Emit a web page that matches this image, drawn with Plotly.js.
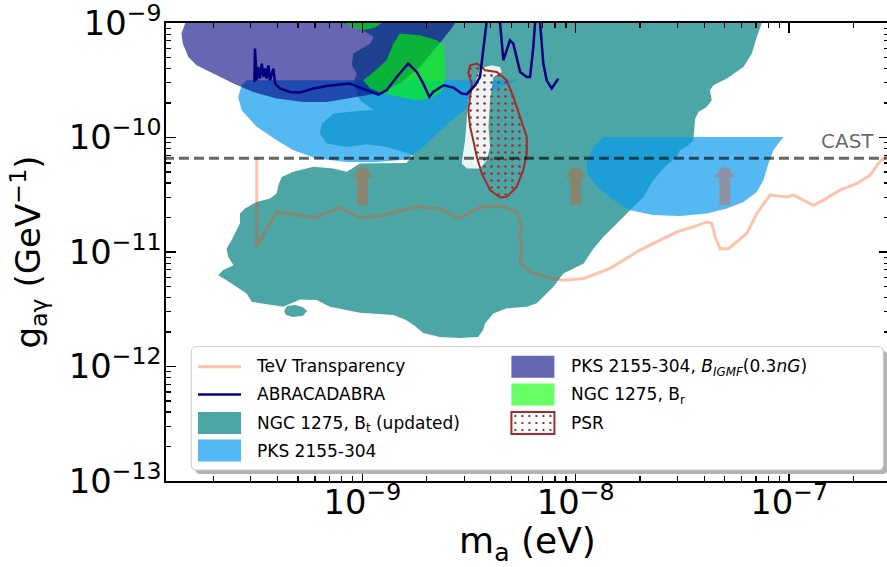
<!DOCTYPE html>
<html>
<head>
<meta charset="utf-8">
<script src="https://cdn.plot.ly/plotly-3.0.1.min.js"></script>
<style>html,body{margin:0;padding:0;overflow:hidden;background:#fff}</style>
</head>
<body>
<div id="chart" style="width:1000px;height:567px"></div>
<script>
// ---- NGC 1275, B_t (updated): contour (main body + small island, separated by null)
const ngcBtMass = [8.14e-10, 7.45e-8, 7.06e-8, 6.69e-8, 6.11e-8, 5.11e-8, 4.42e-8, 4.26e-8, 4.34e-8, 4.11e-8,
  3.76e-8, 3.63e-8, 3.56e-8, 3.37e-8, 3.08e-8, 2.98e-8, 2.62e-8, 2.31e-8, 2.08e-8, 1.73e-8,
  1.50e-8, 1.35e-8, 1.21e-8, 1.14e-8, 1.09e-8, 8.75e-9, 7.86e-9, 6.57e-9, 5.90e-9, 4.75e-9,
  4.11e-9, 3.76e-9, 3.68e-9, 3.49e-9, 2.87e-9, 2.31e-9, 1.93e-9, 1.77e-9, 1.61e-9, 1.40e-9,
  9.75e-10, 7.06e-10, 6.11e-10, 5.11e-10, 4.26e-10, 3.03e-10, 2.87e-10, 2.31e-10, 2.11e-10, 2.23e-10,
  2.49e-10, 2.35e-10, 2.31e-10, 2.44e-10, 2.67e-10, 2.67e-10, 2.82e-10, 3.20e-10, 3.69e-10, 3.97e-10,
  4.04e-10, 4.19e-10, 4.75e-10, 5.89e-10, 7.31e-10, 8.45e-10, 9.75e-10, 1.61e-9, 1.73e-9, 1.56e-9,
  1.30e-9, 1.05e-9, 8.45e-10, 6.81e-10, 6.33e-10, 6.45e-10, 7.31e-10, 9.75e-10, 1.13e-9, 9.75e-10,
  9.07e-10, 9.41e-10, 8.92e-10, 9.07e-10, 1.09e-9, 1.13e-9, 9.75e-10,
  null,
  4.30e-10, 4.44e-10, 4.84e-10, 5.27e-10, 5.51e-10, 5.27e-10, 4.73e-10, 4.39e-10];
const ngcBtCoupling = [1e-9, 1e-9, 7.55e-10, 5.41e-10, 4.13e-10, 3.27e-10, 2.86e-10, 2.59e-10, 2.12e-10, 1.85e-10,
  1.67e-10, 1.46e-10, 9.47e-11, 8.56e-11, 7.74e-11, 6.77e-11, 5.54e-11, 4.24e-11, 3.03e-11, 2.17e-11,
  1.66e-11, 1.36e-11, 1.07e-11, 9.02e-12, 7.95e-12, 6.50e-12, 4.97e-12, 3.56e-12, 3.32e-12, 3.22e-12,
  2.91e-12, 2.38e-12, 2.08e-12, 1.81e-12, 1.77e-12, 1.81e-12, 1.96e-12, 2.25e-12, 2.54e-12, 2.81e-12,
  2.94e-12, 3.32e-12, 3.80e-12, 3.85e-12, 3.32e-12, 3.67e-12, 4.35e-12, 5.68e-12, 6.28e-12, 6.95e-12,
  7.68e-12, 9.07e-12, 1.07e-11, 1.27e-11, 1.78e-11, 2.17e-11, 2.40e-11, 2.74e-11, 2.93e-11, 3.24e-11,
  3.83e-11, 4.53e-11, 5.01e-11, 5.54e-11, 5.36e-11, 5.01e-11, 5.93e-11, 6.00e-11, 7.01e-11, 7.48e-11,
  8.28e-11, 8.74e-11, 8.28e-11, 8.86e-11, 1.08e-10, 1.32e-10, 1.62e-10, 1.71e-10, 1.73e-10, 2.12e-10,
  2.96e-10, 3.62e-10, 4.27e-10, 5.41e-10, 6.61e-10, 7.55e-10, 8.93e-10,
  null,
  3.05e-12, 3.37e-12, 3.44e-12, 3.30e-12, 3.05e-12, 2.78e-12, 2.70e-12, 2.81e-12];

// ---- PKS 2155-304: two contour regions
const pksMass = [2.87e-10, 5.29e-9, 4.27e-9, 3.56e-9, 2.87e-9, 2.23e-9, 1.93e-9, 1.73e-9, 1.61e-9, 1.17e-9,
  8.45e-10, 6.11e-10, 4.75e-10, 3.97e-10, 3.20e-10, 2.72e-10, 2.62e-10, 2.72e-10,
  null,
  1.35e-8, 9.40e-8, 8.44e-8, 8.00e-8, 7.58e-8, 7.06e-8, 6.11e-8, 5.11e-8, 4.11e-8, 3.08e-8,
  2.31e-8, 1.80e-8, 1.50e-8, 1.26e-8, 1.13e-8, 1.13e-8, 1.21e-8];
const pksCoupling = [3.16e-10, 3.16e-10, 2.68e-10, 2.19e-10, 1.62e-10, 1.08e-10, 8.28e-11, 7.15e-11, 6.42e-11, 6.12e-11,
  6.12e-11, 6.55e-11, 7.74e-11, 9.47e-11, 1.24e-10, 1.73e-10, 2.26e-10, 2.86e-10,
  null,
  1.01e-10, 1.01e-10, 7.74e-11, 5.93e-11, 4.24e-11, 3.35e-11, 2.74e-11, 2.40e-11, 2.17e-11, 2.06e-11,
  2.10e-11, 2.32e-11, 2.84e-11, 3.70e-11, 4.85e-11, 6.33e-11, 8.28e-11];

// ---- PKS 2155-304, B_IGMF (0.3 nG)
const pksIgmfMass = [1.48e-10, 1.42e-10, 1.44e-10, 1.53e-10, 1.67e-10, 2.00e-10, 2.49e-10, 3.08e-10, 3.97e-10, 5.29e-10,
  6.81e-10, 9.07e-10, 1.17e-9, 1.50e-9, 1.86e-9, 2.23e-9, 2.58e-9, 2.72e-9];
const pksIgmfCoupling = [1e-9, 8.08e-10, 6.61e-10, 5.05e-10, 4.27e-10, 3.62e-10, 2.96e-10, 2.50e-10, 2.19e-10, 2.04e-10,
  2.04e-10, 2.23e-10, 2.42e-10, 2.96e-10, 4.13e-10, 6.17e-10, 8.64e-10, 1e-9];

// ---- NGC 1275, B_r
const ngcBrMass = [1.50e-9, 1.86e-9, 2.23e-9, 2.40e-9, 2.44e-9, 2.44e-9, 2.36e-9, 2.08e-9, 1.80e-9, 1.50e-9,
  1.25e-9, 1.09e-9, 1.01e-9, 1.13e-9, 1.30e-9, 1.40e-9,
  null,
  8.30e-10, 8.92e-10, 1.01e-9, 1.15e-9, 1.23e-9];
const ngcBrCoupling = [8.08e-10, 7.81e-10, 7.06e-10, 6.39e-10, 4.73e-10, 3.16e-10, 2.50e-10, 2.19e-10, 2.12e-10, 2.26e-10,
  2.42e-10, 2.68e-10, 3.16e-10, 3.74e-10, 4.73e-10, 6.61e-10,
  null,
  1e-9, 9.23e-10, 8.64e-10, 9.12e-10, 1e-9];

// ---- pale (white) region next to PSR
const paleMass = [3.56e-9, 4.04e-9, 4.42e-9, 4.50e-9, 4.11e-9, 3.97e-9, 3.90e-9, 3.97e-9, 3.83e-9, 3.56e-9,
  3.09e-9, 2.92e-9, 3.03e-9, 3.09e-9, 3.14e-9, 3.38e-9];
const paleCoupling = [4.00e-10, 4.27e-10, 4.13e-10, 3.74e-10, 3.38e-10, 2.12e-10, 1.24e-10, 8.28e-11, 6.33e-11, 5.36e-11,
  5.36e-11, 5.93e-11, 9.47e-11, 1.62e-10, 2.12e-10, 2.96e-10];

// ---- PSR
const psrMass = [3.20e-9, 3.44e-9, 3.63e-9, 3.76e-9, 4.27e-9, 4.75e-9, 5.10e-9, 5.49e-9, 5.90e-9, 5.90e-9,
  5.68e-9, 5.29e-9, 4.75e-9, 4.42e-9, 3.97e-9, 3.63e-9, 3.44e-9, 3.31e-9, 3.20e-9, 3.14e-9,
  3.20e-9, 3.26e-9, 3.14e-9, 3.20e-9];
const psrCoupling = [4.27e-10, 4.42e-10, 4.13e-10, 3.87e-10, 3.74e-10, 3.16e-10, 2.26e-10, 1.51e-10, 1.01e-10, 7.25e-11,
  5.18e-11, 3.70e-11, 3.03e-11, 2.99e-11, 3.47e-11, 4.85e-11, 6.77e-11, 9.47e-11, 1.24e-10, 1.73e-10,
  2.26e-10, 2.96e-10, 3.62e-10, 4.27e-10];

// ---- ABRACADABRA
const abraMass = [3.12e-10, 3.14e-10, 3.20e-10, 3.25e-10, 3.31e-10, 3.38e-10, 3.44e-10, 3.50e-10, 3.56e-10, 3.63e-10,
  3.69e-10, 3.76e-10, 3.83e-10, 3.90e-10, 4.11e-10, 4.58e-10, 5.11e-10, 5.89e-10, 6.81e-10, 7.86e-10,
  8.76e-10, 9.75e-10, 1.09e-9, 1.19e-9, 1.30e-9, 1.45e-9, 1.64e-9, 1.80e-9, 1.93e-9, 2.06e-9,
  2.15e-9, 2.40e-9, 2.67e-9, 2.92e-9, 3.09e-9, 3.38e-9, 3.56e-9, 3.69e-9, 3.83e-9, 4.10e-9,
  4.42e-9, 4.58e-9, 4.92e-9, 5.10e-9, 5.49e-9, 5.90e-9, 6.11e-9, 6.33e-9, 6.45e-9, 6.63e-9,
  6.81e-9, 7.05e-9, 7.31e-9, 7.72e-9, 8.29e-9];
const abraCoupling = [3.06e-10, 5.98e-10, 3.16e-10, 4.13e-10, 3.27e-10, 4.42e-10, 3.38e-10, 4.00e-10, 3.27e-10, 4.27e-10,
  3.16e-10, 3.62e-10, 4.00e-10, 2.96e-10, 2.68e-10, 2.50e-10, 2.47e-10, 2.68e-10, 2.82e-10, 2.90e-10,
  2.96e-10, 2.73e-10, 2.50e-10, 2.37e-10, 2.59e-10, 3.38e-10, 4.42e-10, 3.74e-10, 2.96e-10, 2.26e-10,
  2.50e-10, 2.86e-10, 2.73e-10, 2.42e-10, 2.39e-10, 2.86e-10, 3.38e-10, 5.78e-10, 1e-9, 3e-9,
  1e-9, 4.73e-10, 7.06e-10, 6.61e-10, 3.74e-10, 3.38e-10, 3.38e-10, 6.17e-10, 1e-9, 3e-9,
  1e-9, 4.42e-10, 3.16e-10, 2.68e-10, 3.27e-10];

// ---- TeV Transparency
const tevMass = [3.20e-10, 3.20e-10, 3.97e-10, 6.00e-10, 7.86e-10, 9.75e-10, 1.21e-9, 1.45e-9, 1.83e-9, 2.31e-9,
  2.82e-9, 3.63e-9, 4.50e-9, 5.29e-9, 5.59e-9, 5.44e-9, 5.59e-9, 5.49e-9, 6.11e-9, 7.31e-9,
  8.75e-9, 1.09e-8, 1.45e-8, 2.00e-8, 2.49e-8, 2.98e-8, 3.56e-8, 4.11e-8, 4.34e-8, 4.50e-8,
  4.75e-8, 5.19e-8, 6.33e-8, 7.06e-8, 8.15e-8, 9.75e-8, 1.05e-7, 1.30e-7, 1.45e-7, 1.73e-7,
  2.08e-7, 2.40e-7, 2.62e-7, 2.82e-7, 3.04e-7];
const tevCoupling = [6.6e-11, 1.11e-11, 2.24e-11, 2.00e-11, 2.45e-11, 1.99e-11, 2.06e-11, 2.27e-11, 2.48e-11, 2.38e-11,
  1.96e-11, 2.48e-11, 2.51e-11, 2.24e-11, 1.66e-11, 1.36e-11, 1.15e-11, 7.95e-12, 6.71e-12, 6.00e-12,
  5.68e-12, 5.88e-12, 7.19e-12, 1.04e-11, 1.27e-11, 1.50e-11, 1.66e-11, 1.83e-11, 1.78e-11, 1.36e-11,
  1.07e-11, 1.07e-11, 1.45e-11, 2.17e-11, 3.14e-11, 3.03e-11, 3.14e-11, 2.56e-11, 2.84e-11, 3.47e-11,
  3.97e-11, 4.69e-11, 5.93e-11, 6.77e-11, 7.74e-11];

// ---- TeV lower-bound arrows
const arrowMass = [1e-9, 1e-8, 5e-8];
const arrowFrom = [2.5e-11, 2.5e-11, 2.5e-11];
const arrowTo = [5.6e-11, 5.6e-11, 5.6e-11];

// ---- CAST limit
const castLimit = 6.6e-11;
const castMassSpan = [1e-10, 1e-6];

// ---- axes
const massRange = [1.202e-10, 2.94e-7];
const couplingRange = [1e-13, 1e-9];

// ---- legend labels
const legendLabels = {
  tev: 'TeV Transparency',
  abra: 'ABRACADABRA',
  bt: 'NGC 1275, B<sub>t</sub> (updated)',
  pks: 'PKS 2155-304',
  igmf: 'PKS 2155-304, <i>B<sub>IGMF</sub></i>(0.3<i>nG</i>)',
  br: 'NGC 1275, B<sub>r</sub>',
  psr: 'PSR'
};

const FONT = 'DejaVu Sans, Arial, sans-serif';
const C_TEV = 'rgba(255,69,0,0.33)';
const C_ABRA = '#000080';
const C_BT = 'rgba(0,128,128,0.7)', C_PKS = 'rgba(11,155,237,0.7)', C_IGMF = 'rgba(0,0,128,0.6)', C_BR = 'rgba(0,255,0,0.6)';
const C_PSR = '#a52a2a';

// legend entries: text via Plotly legend, key symbol drawn as layout shapes
function legendEntry(key, legend, rank) {
  return {x: [null], y: [null], mode: 'lines', name: legendLabels[key], line: {width: 0, color: 'rgba(0,0,0,0)'},
          legend: legend, legendgroup: key, legendrank: rank, hoverinfo: 'skip'};
}

const traces = [
  {x: ngcBtMass, y: ngcBtCoupling, mode: 'lines', showlegend: false,
   fill: 'toself', fillcolor: C_BT, line: {width: 0, color: C_BT}, hoverinfo: 'skip'},
  {x: pksMass, y: pksCoupling, mode: 'lines', showlegend: false,
   fill: 'toself', fillcolor: C_PKS, line: {width: 0, color: C_PKS}, hoverinfo: 'skip'},
  {x: pksIgmfMass, y: pksIgmfCoupling, mode: 'lines', showlegend: false,
   fill: 'toself', fillcolor: C_IGMF, line: {width: 0, color: C_IGMF}, hoverinfo: 'skip'},
  {x: ngcBrMass, y: ngcBrCoupling, mode: 'lines', showlegend: false,
   fill: 'toself', fillcolor: C_BR, line: {width: 0, color: C_BR}, hoverinfo: 'skip'},
  {x: paleMass, y: paleCoupling, mode: 'lines', showlegend: false,
   fill: 'toself', fillcolor: 'rgba(255,255,255,0.9)', line: {width: 0}, hoverinfo: 'skip'},
  {x: psrMass, y: psrCoupling, mode: 'lines', showlegend: false,
   fill: 'toself', fillcolor: 'rgba(255,255,255,0.9)',
   fillpattern: {shape: '.', fgcolor: C_PSR, size: 7, solidity: 0.12},
   line: {width: 2, color: C_PSR}, hoverinfo: 'skip'},
  {x: abraMass, y: abraCoupling, mode: 'lines', showlegend: false,
   line: {width: 2.5, color: C_ABRA}, hoverinfo: 'skip'},
  {x: tevMass, y: tevCoupling, mode: 'lines', showlegend: false,
   line: {width: 3, color: C_TEV}, hoverinfo: 'skip'},
  {x: castMassSpan, y: [castLimit, castLimit], mode: 'lines', showlegend: false,
   line: {width: 3, color: 'rgba(0,0,0,0.6)', dash: '10px,5px'}, hoverinfo: 'skip'},
  legendEntry('tev', 'legend', 1),
  legendEntry('abra', 'legend', 2),
  legendEntry('bt', 'legend', 3),
  legendEntry('pks', 'legend', 4),
  legendEntry('igmf', 'legend2', 1),
  legendEntry('br', 'legend2', 2),
  legendEntry('psr', 'legend2', 3)
];

const W = 1000, H = 567, ML = 166, MR = 111, MT = 23, MB = 86;
const PW = W - ML - MR, PH = H - MT - MB;
function px2paperX(px) { return (px - ML) / PW; }
function px2paperY(py) { return (H - MB - py) / PH; }
function roundRect(x0, y0, x1, y1, r) {
  const X0 = px2paperX(x0), X1 = px2paperX(x1), Y0 = px2paperY(y0), Y1 = px2paperY(y1);
  const rx = r / PW, ry = r / PH;
  return `M${X0 + rx},${Y0} L${X1 - rx},${Y0} Q${X1},${Y0} ${X1},${Y0 - ry} L${X1},${Y1 + ry} Q${X1},${Y1} ${X1 - rx},${Y1} ` +
         `L${X0 + rx},${Y1} Q${X0},${Y1} ${X0},${Y1 + ry} L${X0},${Y0 - ry} Q${X0},${Y0} ${X0 + rx},${Y0} Z`;
}
function pxRectShape(x0, y0, x1, y1, extra) {
  return Object.assign({type: 'rect', xref: 'paper', yref: 'paper', layer: 'above',
    x0: px2paperX(x0), x1: px2paperX(x1), y0: px2paperY(y1), y1: px2paperY(y0)}, extra);
}

// legend key geometry (pixels)
const KEY_X = [198, 511.4], KEY_W = 43, KEY_H = 22;
const ROW_Y = [366.7, 394.5, 423, 450.5];
function keyPatch(col, row, color) {
  const x0 = KEY_X[col], yc = ROW_Y[row];
  return pxRectShape(x0, yc - KEY_H / 2, x0 + KEY_W, yc + KEY_H / 2, {fillcolor: color, line: {width: 0}});
}
function keyLine(col, row, color, width) {
  const x0 = KEY_X[col], yc = ROW_Y[row];
  return {type: 'line', xref: 'paper', yref: 'paper', layer: 'above',
          x0: px2paperX(x0), x1: px2paperX(x0 + KEY_W), y0: px2paperY(yc), y1: px2paperY(yc),
          line: {color: color, width: width}};
}
function keyDots(col, row) {
  const x0 = KEY_X[col], yc = ROW_Y[row];
  let p = '';
  for (let r = -1; r <= 1; r++) {
    for (let c = 0; c < 6; c++) {
      const cx = x0 + 4 + c * 7, cy = yc + r * 7;
      p += `M${px2paperX(cx - 1)},${px2paperY(cy - 1)} L${px2paperX(cx + 1)},${px2paperY(cy - 1)} ` +
           `L${px2paperX(cx + 1)},${px2paperY(cy + 1)} L${px2paperX(cx - 1)},${px2paperY(cy + 1)} Z `;
    }
  }
  return {type: 'path', xref: 'paper', yref: 'paper', layer: 'above', path: p, fillcolor: C_PSR, line: {width: 0}};
}

const annotations = arrowMass.map((m, i) => ({
  x: Math.log10(m), y: Math.log10(arrowTo[i]), ax: Math.log10(m), ay: Math.log10(arrowFrom[i]),
  xref: 'x', yref: 'y', axref: 'x', ayref: 'y', text: '', showarrow: true,
  arrowhead: 1, arrowsize: 0.333, arrowwidth: 11, arrowcolor: C_TEV, standoff: 0
}));
annotations.push({
  x: px2paperX(876), xref: 'paper', xanchor: 'right',
  y: Math.log10(castLimit), yref: 'y', yanchor: 'bottom', yshift: 3,
  text: 'CAST', showarrow: false, font: {family: FONT, size: 20, color: 'rgba(0,0,0,0.6)'}
});

const axisCommon = {
  type: 'log', showgrid: false, zeroline: false, showline: true, linecolor: 'black', linewidth: 2,
  mirror: 'allticks', ticks: 'inside', ticklen: 10, tickwidth: 1.5, tickcolor: 'black',
  dtick: 1, exponentformat: 'power', ticklabeloverflow: 'allow',
  tickfont: {family: FONT, size: 27, color: 'black'},
  minor: {ticks: 'inside', ticklen: 5, tickwidth: 1.2, tickcolor: 'black', dtick: 'D1', showgrid: false}
};

const legendCommon = {
  bgcolor: 'rgba(0,0,0,0)', borderwidth: 0, xanchor: 'left', yanchor: 'top',
  traceorder: 'grouped', tracegroupgap: 3.2, itemwidth: 52,
  font: {family: FONT, size: 17, color: 'black'}
};

const EPS = 1e-6;
const layout = {
  width: W, height: H,
  margin: {l: ML, r: MR, t: MT, b: MB, pad: 0},
  paper_bgcolor: 'white', plot_bgcolor: 'white',
  showlegend: true,
  xaxis: Object.assign({}, axisCommon, {
    range: massRange.map(Math.log10),
    ticklabelstandoff: -8,
    title: {text: 'm<sub>a</sub> (eV)', font: {family: FONT, size: 36, color: 'black'}, standoff: 24}
  }),
  yaxis: Object.assign({}, axisCommon, {
    range: [Math.log10(couplingRange[0]) - EPS, Math.log10(couplingRange[1]) + EPS],
    ticklabelstandoff: -3,
    title: {text: 'g<sub>aγ</sub> (GeV<sup>−1</sup>)', font: {family: FONT, size: 34, color: 'black'}, standoff: 18}
  }),
  legend: Object.assign({}, legendCommon, {x: px2paperX(195), y: px2paperY(348)}),
  legend2: Object.assign({}, legendCommon, {x: px2paperX(509), y: px2paperY(348)}),
  shapes: [
    {type: 'path', xref: 'paper', yref: 'paper', path: roundRect(195.3, 350.7, 887.3, 474, 5),
     fillcolor: '#b3b3b3', line: {width: 0}, layer: 'above'},
    {type: 'path', xref: 'paper', yref: 'paper', path: roundRect(191.3, 346.7, 883.3, 470, 5),
     fillcolor: 'white', line: {width: 1, color: '#cccccc'}, layer: 'above'},
    keyLine(0, 0, C_TEV, 3),
    keyLine(0, 1, C_ABRA, 2.5),
    keyPatch(0, 2, C_BT),
    keyPatch(0, 3, C_PKS),
    keyPatch(1, 0, C_IGMF),
    keyPatch(1, 1, C_BR),
    Object.assign(keyPatch(1, 2, 'white'), {line: {width: 2, color: C_PSR}}),
    keyDots(1, 2)
  ],
  annotations: annotations
};

Plotly.newPlot('chart', traces, layout, {displayModeBar: false, staticPlot: true});
</script>
</body>
</html>
